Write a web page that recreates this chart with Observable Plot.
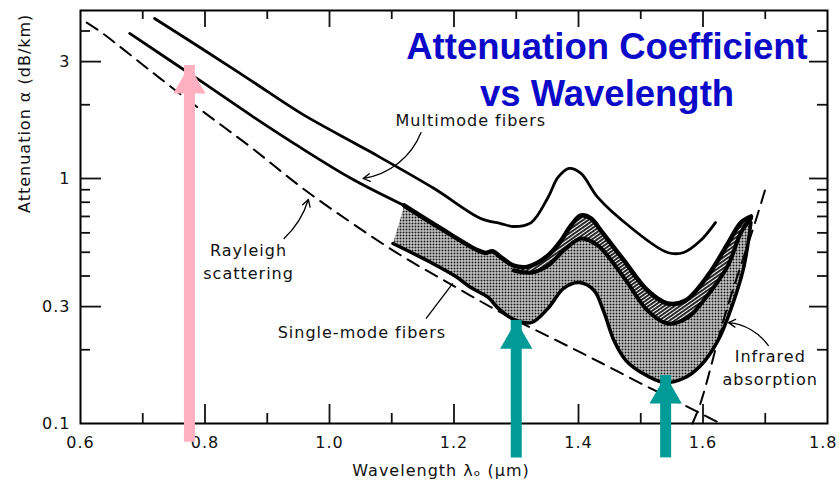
<!DOCTYPE html>
<html>
<head>
<meta charset="utf-8">
<script src="https://cdn.jsdelivr.net/npm/d3@7"></script>
<script src="https://cdn.jsdelivr.net/npm/@observablehq/plot@0.6"></script>
<style>
  html, body { margin: 0; padding: 0; background: #fff; }
  #chart svg { display: block; }
  #chart g[font-size="16"] text { letter-spacing: 1px; }
</style>
</head>
<body>
<div id="chart"></div>
<script>
// Wavelength (µm) and attenuation (dB/km) for each curve
const rayleighUm = [0.61, 0.634, 0.714, 0.794, 0.874, 0.955, 1.035, 1.115, 1.195, 1.275, 1.356, 1.436, 1.516, 1.564, 1.628];
const rayleighDb = [4.33, 3.94, 2.73, 1.90, 1.34, 0.92, 0.66, 0.485, 0.37, 0.284, 0.224, 0.177, 0.139, 0.121, 0.10];

const infraredUm = [1.583, 1.596, 1.636, 1.686, 1.702];
const infraredDb = [0.10, 0.121, 0.281, 0.69, 0.94];

const multimodeHighUm = [0.719, 0.794, 0.874, 0.955, 1.062, 1.168, 1.243, 1.275, 1.296, 1.324, 1.351, 1.367, 1.385, 1.404, 1.431, 1.484, 1.543, 1.569, 1.596, 1.620];
const multimodeHighDb = [4.50, 3.40, 2.51, 1.84, 1.30, 0.91, 0.687, 0.655, 0.637, 0.661, 0.837, 1.01, 1.10, 1.05, 0.837, 0.631, 0.499, 0.499, 0.558, 0.661];

const multimodeLowUm = [0.679, 0.794, 0.874, 0.955, 1.035, 1.120];
const multimodeLowDb = [3.91, 2.49, 1.81, 1.33, 1.00, 0.776];

const singleTopUm = [1.120, 1.179, 1.239, 1.251, 1.262, 1.275, 1.296, 1.319, 1.351, 1.372, 1.388, 1.404, 1.420, 1.436, 1.473, 1.511, 1.543, 1.572, 1.608, 1.640, 1.661, 1.677];
const singleTopDb = [0.776, 0.625, 0.508, 0.497, 0.505, 0.478, 0.441, 0.437, 0.485, 0.558, 0.643, 0.706, 0.687, 0.613, 0.463, 0.349, 0.309, 0.318, 0.402, 0.543, 0.661, 0.700];

const singleMidUm = [1.296, 1.324, 1.351, 1.376, 1.404, 1.431, 1.473, 1.511, 1.543, 1.576, 1.601, 1.640, 1.661, 1.677];
const singleMidDb = [0.421, 0.413, 0.441, 0.508, 0.569, 0.533, 0.394, 0.289, 0.256, 0.271, 0.318, 0.441, 0.602, 0.687];

const singleBottomUm = [1.102, 1.163, 1.203, 1.227, 1.255, 1.271, 1.296, 1.324, 1.351, 1.376, 1.401, 1.425, 1.441, 1.457, 1.476, 1.500, 1.537, 1.569, 1.596, 1.624, 1.644, 1.665, 1.677];
const singleBottomDb = [0.543, 0.454, 0.398, 0.359, 0.327, 0.295, 0.266, 0.258, 0.295, 0.356, 0.376, 0.349, 0.284, 0.218, 0.181, 0.162, 0.147, 0.153, 0.172, 0.218, 0.289, 0.429, 0.661];

// Operating windows marked with coloured arrows
const windowUm = [0.775, 1.30, 1.54];
const windowTipDb = [2.89, 0.263, 0.157];
const windowBaseDb = [0.103, 0.089, 0.089];
const windowColor = ["#ffb0c0", "#009b96", "#009b96"];

// Axis ticks
const xTickValues = [0.6, 0.8, 1.0, 1.2, 1.4, 1.6];
const xTickLabels = ["0.6", "0.8", "1.0", "1.2", "1.4", "1.6"];
const xEndValue = [1.8];
const xEndLabel = ["1.8"];
const xMajorTicks = [0.8, 1.0, 1.2, 1.4, 1.6];
const xMinorTicks = [0.7, 0.9, 1.1, 1.3, 1.5, 1.7];
const yTickValues = [0.1, 0.3, 1, 3];
const yTickLabels = ["0.1", "0.3", "1", "3"];
const yMajorTicks = [0.3, 1, 3];
const yMinorTicks = [0.2, 0.4, 0.5, 0.6, 0.7, 0.8, 0.9, 2, 4];

// Curve labels and their leader lines
const notes = [
  {text: "Multimode fibers", um: 1.227, db: 1.76},
  {text: "Rayleigh\nscattering", um: 0.870, db: 0.465},
  {text: "Single-mode fibers", um: 1.052, db: 0.240},
  {text: "Infrared\nabsorption", um: 1.708, db: 0.171}
];
const multimodeLeader = [{um1: 1.147, db1: 1.54, um2: 1.054, db2: 1.0}];
const rayleighLeader = [{um1: 0.927, db1: 0.569, um2: 0.966, db2: 0.821}];
const infraredLeader = [{um1: 1.705, db1: 0.208, um2: 1.641, db2: 0.258}];
const singleLeader = [{um1: 1.155, db1: 0.268, um2: 1.198, db2: 0.373}];

const pts = (xs, ys) => xs.map((x, i) => ({um: x, db: ys[i]}));

const rayleigh = pts(rayleighUm, rayleighDb);
const infrared = pts(infraredUm, infraredDb);
const multimodeHigh = pts(multimodeHighUm, multimodeHighDb);
const multimodeLow = pts(multimodeLowUm, multimodeLowDb);
const singleTop = pts(singleTopUm, singleTopDb);
const singleMid = pts(singleMidUm, singleMidDb);
const singleBottom = pts(singleBottomUm, singleBottomDb);

// Outline of the single-mode band, and of its darker upper strip
const bandOutline = [...singleTop, ...singleBottom.slice().reverse()];
const stripOutline = [...singleTop.filter(d => d.um >= singleMidUm[0]), ...singleMid.slice().reverse()];

const windows = windowUm.map((u, i) => ({um: u, tip: windowTipDb[i], base: windowBaseDb[i], color: windowColor[i]}));

const labelFont = "'DejaVu Sans', Verdana, sans-serif";
const titleFont = "'Liberation Sans', Arial, Helvetica, sans-serif";
const W = 840, H = 492, mL = 80, mR = 13, mT = 10, mB = 69;
const frameW = W - mL - mR, frameH = H - mT - mB;

const chart = Plot.plot({
  width: W,
  height: H,
  marginLeft: mL,
  marginRight: mR,
  marginTop: mT,
  marginBottom: mB,
  style: {background: "#fff", fontFamily: labelFont, color: "#111"},
  x: {domain: [0.6, 1.8], axis: null},
  y: {type: "log", domain: [0.1, 4.85], axis: null},
  marks: [
    // single-mode band fill
    Plot.line(bandOutline, {x: "um", y: "db", fill: "url(#stipple)", stroke: "none", curve: "catmull-rom"}),
    Plot.line(stripOutline, {x: "um", y: "db", fill: "url(#hatch)", stroke: "none", curve: "catmull-rom"}),

    // solid curves
    Plot.line(multimodeHigh, {x: "um", y: "db", stroke: "#000", strokeWidth: 2.8, curve: "catmull-rom"}),
    Plot.line(multimodeLow, {x: "um", y: "db", stroke: "#000", strokeWidth: 2.8, curve: "catmull-rom"}),
    Plot.line(singleTop, {x: "um", y: "db", stroke: "#000", strokeWidth: 4.5, curve: "catmull-rom"}),
    Plot.line(singleMid, {x: "um", y: "db", stroke: "#000", strokeWidth: 4, curve: "catmull-rom"}),
    Plot.line(singleBottom, {x: "um", y: "db", stroke: "#000", strokeWidth: 3.5, curve: "catmull-rom"}),

    // loss limits
    Plot.line(rayleigh, {x: "um", y: "db", stroke: "#000", strokeWidth: 2, strokeDasharray: "13 8", curve: "catmull-rom"}),
    Plot.line(infrared, {x: "um", y: "db", stroke: "#000", strokeWidth: 2, strokeDasharray: "13 8", curve: "catmull-rom"}),

    // frame and inward ticks
    Plot.frame({stroke: "#000", strokeWidth: 2}),
    Plot.ruleX(xMajorTicks, {x: d => d, insetTop: frameH - 19, strokeWidth: 1.8}),
    Plot.ruleX(xMinorTicks, {x: d => d, insetTop: frameH - 10, strokeWidth: 1.8}),
    Plot.ruleX(xMajorTicks, {x: d => d, insetBottom: frameH - 17, strokeWidth: 1.8}),
    Plot.ruleX(xMinorTicks, {x: d => d, insetBottom: frameH - 9, strokeWidth: 1.8}),
    Plot.ruleY(yMajorTicks, {y: d => d, insetRight: frameW - 21, strokeWidth: 1.8}),
    Plot.ruleY(yMinorTicks, {y: d => d, insetRight: frameW - 10, strokeWidth: 1.8}),
    Plot.ruleY(yMajorTicks, {y: d => d, insetLeft: frameW - 18, strokeWidth: 1.8}),
    Plot.ruleY(yMinorTicks, {y: d => d, insetLeft: frameW - 10, strokeWidth: 1.8}),

    // tick labels
    Plot.text(xTickValues, {x: d => d, text: (d, i) => xTickLabels[i], frameAnchor: "bottom", dy: 19, lineAnchor: "middle", fontSize: 16, fill: "#111"}),
    Plot.text(xEndValue, {x: d => d, text: (d, i) => xEndLabel[i], frameAnchor: "bottom", dx: 10, dy: 19, textAnchor: "end", lineAnchor: "middle", fontSize: 16, fill: "#111"}),
    Plot.text(yTickValues, {y: d => d, text: (d, i) => yTickLabels[i], frameAnchor: "left", dx: -10, textAnchor: "end", lineAnchor: "middle", fontSize: 16, fill: "#111"}),

    // axis titles
    Plot.text(["Wavelength λₒ (μm)"], {frameAnchor: "bottom", dx: -13, dy: 47, lineAnchor: "middle", fontSize: 16, fill: "#111"}),
    Plot.text(["Attenuation α (dB/km)"], {frameAnchor: "left", dx: -56, dy: -4, rotate: -90, lineAnchor: "middle", fontSize: 16, fill: "#111"}),

    // curve labels and leaders
    Plot.text(notes, {x: "um", y: "db", text: "text", fontSize: 16, lineHeight: 1.45, lineAnchor: "middle", fill: "#111"}),
    Plot.arrow(multimodeLeader, {x1: "um1", y1: "db1", x2: "um2", y2: "db2", bend: 30, headLength: 9, strokeWidth: 1.3, stroke: "#000"}),
    Plot.arrow(rayleighLeader, {x1: "um1", y1: "db1", x2: "um2", y2: "db2", bend: -15, headLength: 9, strokeWidth: 1.3, stroke: "#000"}),
    Plot.arrow(infraredLeader, {x1: "um1", y1: "db1", x2: "um2", y2: "db2", bend: -25, headLength: 9, strokeWidth: 1.3, stroke: "#000"}),
    Plot.link(singleLeader, {x1: "um1", y1: "db1", x2: "um2", y2: "db2", strokeWidth: 1.3, stroke: "#000"}),

    // window arrows
    Plot.ruleX(windows, {x: "um", y1: "base", y2: "tip", stroke: "color", strokeWidth: 11, insetTop: 22}),
    Plot.dot(windows, {x: "um", y: "tip", fill: "color", stroke: "none", symbol: "triangle", r: 12, dy: 18.7}),

    // title
    Plot.text(["Attenuation Coefficient\nvs Wavelength"], {frameAnchor: "top", dx: 153, dy: 57, lineAnchor: "middle", lineHeight: 1.27, fontSize: 36.5, fontWeight: "bold", fontFamily: titleFont, fill: "#0a0ac8"})
  ]
});

// fill patterns for the shaded band
const defs = d3.select(chart).insert("defs", ":first-child");
const stipple = defs.append("pattern").attr("id", "stipple").attr("patternUnits", "userSpaceOnUse").attr("width", 3).attr("height", 3);
stipple.append("rect").attr("width", 3).attr("height", 3).attr("fill", "#fff");
stipple.append("rect").attr("width", 2.1).attr("height", 2.1).attr("fill", "#1a1a1a");
const hatch = defs.append("pattern").attr("id", "hatch").attr("patternUnits", "userSpaceOnUse").attr("width", 3).attr("height", 3).attr("patternTransform", "rotate(-35)");
hatch.append("rect").attr("width", 3).attr("height", 3).attr("fill", "#fff");
hatch.append("rect").attr("width", 3).attr("height", 1.9).attr("fill", "#1a1a1a");

document.getElementById("chart").append(chart);
</script>
</body>
</html>
